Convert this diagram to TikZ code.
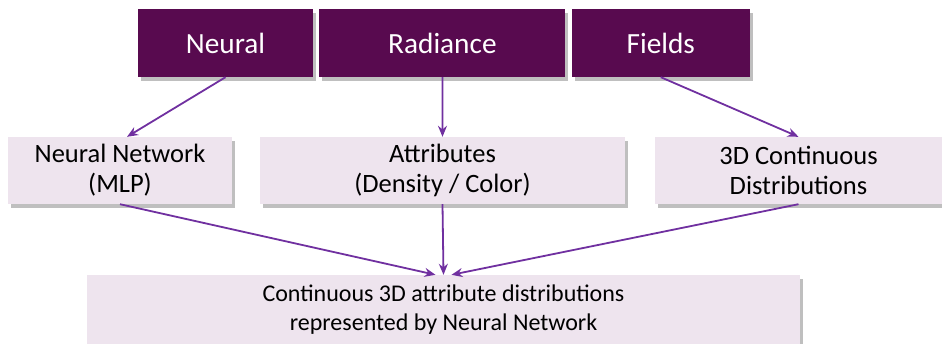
\documentclass[tikz,border=0pt]{standalone}
\usepackage{fontspec}
\setmainfont{Carlito}
\usepackage{tikz}
\usetikzlibrary{positioning}
\usetikzlibrary{calc}
\usetikzlibrary{shadows}
\usetikzlibrary{arrows.meta}
\definecolor{nerfdark}{HTML}{580A4F}
\definecolor{nerflight}{HTML}{EEE4EE}
\definecolor{nerfarrow}{HTML}{7030A0}
\tikzstyle{term} = [rectangle, fill=nerfdark, text=white, minimum height=68pt, inner sep=0pt, font=\fontsize{29.3}{34}\selectfont, drop shadow={shadow xshift=3pt,shadow yshift=-4pt,opacity=.5}]
\tikzstyle{idea} = [rectangle, fill=nerflight, text=black, minimum height=67pt, inner sep=0pt, align=center, font=\fontsize{26.5}{30}\selectfont, drop shadow={shadow xshift=3pt,shadow yshift=-4pt,opacity=.5}]
\tikzstyle{summary} = [idea, minimum height=70pt, font=\fontsize{24}{29}\selectfont]
\tikzstyle{link} = [draw=nerfarrow, line width=1.8pt, -{Stealth[length=11pt,width=9pt]}]

\begin{document}
\begin{tikzpicture}[x=1pt,y=-1pt]
    \useasboundingbox (0,0) rectangle (942,343);
    \node [term, minimum width=175pt] (neural) at (225.5,43) {Neural};
    \node [term, minimum width=246pt, right=6pt of neural] (radiance) {Radiance};
    \node [term, minimum width=178pt, right=6pt of radiance] (fields) {Fields};

    \node [idea, minimum width=224pt] (network) at (120,170.5) {Neural Network\\(MLP)};
    \node [idea, minimum width=365pt] (attrib) at (442.5,170.5) {Attributes\\(Density / Color)};
    \node [idea, minimum width=287pt] (distrib) at (798.5,170.5) {3D Continuous\\Distributions};

    \node [summary, minimum width=713pt] (result) at (443.5,310) {Continuous 3D attribute distributions\\represented by Neural Network};

    \draw [link] (neural.south) -- ($(network.north)+(7,0)$);
    \draw [link] (radiance.south) -- (attrib.north);
    \draw [link] (fields.south) -- (distrib.north);

    \draw [link] (network.south) -- ($(result.north)+(-8,0)$);
    \draw [link] (attrib.south) -- (result.north);
    \draw [link] (distrib.south) -- ($(result.north)+(8,0)$);
\end{tikzpicture}
\end{document}
